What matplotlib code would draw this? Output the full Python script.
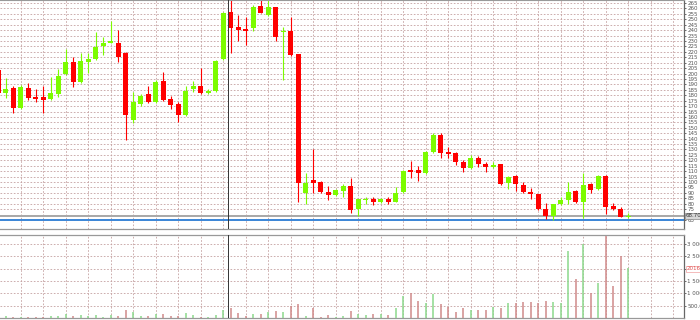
import numpy as np
import matplotlib.pyplot as plt

# candle data, first one is cut by the left edge
opens = [203.3, 181.8, 186.6, 168.2, 186.6, 178.4, 178.4, 176.5, 181.1, 199.6,
         210.6, 192.2, 210.6, 213.4, 225.4, 228.1, 228.1, 218.9, 157.2, 171.9,
         181.1, 173.8, 193.1, 176.5, 171.9, 161.8, 185.7, 188.5, 182.0, 183.9,
         213.4, 256.7, 242.9, 241.0, 242.0, 262.2, 254.0, 261.3, 238.3, 239.2,
         218.0, 89.9, 101.9, 100.0, 90.8, 88.0, 91.7, 96.3, 75.1, 83.4,
         84.3, 81.6, 84.3, 81.6, 90.8, 111.1, 111.1, 108.3, 127.7, 142.9,
         127.7, 126.8, 118.5, 112.9, 122.1, 116.6, 113.8, 116.6, 99.1, 105.5,
         97.3, 90.8, 88.9, 75.1, 68.7, 79.7, 83.4, 91.7, 81.6, 98.2,
         93.6, 105.5, 77.9, 75.1, 67.8]
highs = [205.1, 195.9, 188.5, 189.4, 191.3, 185.7, 188.5, 196.8, 204.2, 222.6,
         215.2, 218.9, 218.9, 238.3, 233.7, 248.4, 240.1, 219.8, 183.0, 181.1,
         188.5, 194.0, 201.4, 179.3, 173.8, 188.5, 193.1, 205.1, 185.7, 212.5,
         256.7, 270.0, 254.0, 252.1, 263.2, 270.0, 270.0, 261.3, 242.9, 252.1,
         218.0, 108.3, 130.4, 101.0, 96.3, 93.6, 98.2, 103.7, 84.3, 86.2,
         86.2, 85.3, 86.2, 95.4, 111.1, 119.4, 114.8, 128.6, 145.2, 145.2,
         132.3, 127.7, 120.3, 124.9, 124.0, 118.5, 118.5, 116.6, 105.5, 106.5,
         100.0, 94.5, 88.9, 80.7, 79.7, 86.2, 100.0, 92.6, 108.3, 99.1,
         106.5, 106.5, 80.7, 77.0, 71.4]
lows = [180.2, 177.4, 163.6, 167.3, 175.6, 173.8, 163.6, 175.6, 178.4, 198.6,
        187.6, 191.3, 200.5, 212.5, 217.1, 228.1, 210.6, 138.7, 154.4, 170.1,
        172.8, 172.8, 174.7, 167.3, 155.3, 160.9, 183.0, 181.1, 181.1, 183.0,
        212.5, 218.9, 230.0, 226.3, 239.2, 255.8, 253.0, 230.0, 194.0, 216.2,
        81.6, 79.7, 89.9, 89.9, 83.4, 87.1, 86.2, 71.4, 68.7, 79.7,
        78.8, 80.7, 79.7, 81.6, 89.9, 103.7, 101.0, 107.4, 126.8, 122.1,
        122.1, 115.7, 109.2, 112.0, 113.8, 109.2, 112.9, 97.3, 93.6, 91.7,
        89.9, 84.3, 74.2, 65.9, 65.0, 78.8, 79.7, 80.7, 66.8, 89.9,
        92.6, 70.5, 74.2, 67.8, 66.8]
closes = [182.0, 185.5, 168.2, 187.6, 177.4, 176.5, 175.6, 182.0, 197.7, 210.6,
          192.2, 211.5, 213.4, 224.5, 228.1, 230.0, 215.2, 161.8, 173.8, 179.3,
          173.8, 192.2, 175.6, 171.0, 161.8, 183.9, 188.5, 182.0, 183.9, 211.5,
          255.8, 242.0, 240.1, 239.2, 261.3, 255.8, 261.3, 233.7, 239.2, 217.1,
          99.1, 99.1, 99.1, 90.8, 88.0, 92.6, 96.3, 74.2, 84.3, 84.3,
          81.6, 84.3, 81.6, 89.9, 110.2, 109.2, 108.3, 127.7, 143.3, 127.2,
          125.8, 118.5, 112.9, 122.1, 116.6, 113.8, 115.7, 98.2, 104.6, 98.2,
          90.8, 88.9, 75.1, 68.7, 79.7, 83.4, 90.8, 81.6, 97.3, 92.6,
          105.5, 77.0, 75.1, 67.8, 68.7]
volumes = [60, 80, 40, 40, 40, 40, 60, 81, 81, 149,
           81, 122, 90, 122, 40, 122, 81, 325, 257, 81,
           100, 149, 163, 81, 100, 217, 122, 60, 40, 122,
           325, 393, 217, 80, 163, 163, 257, 271, 257, 488,
           569, 81, 393, 60, 122, 40, 81, 285, 149, 122,
           163, 149, 122, 393, 908, 1030, 705, 623, 962, 569,
           433, 257, 420, 325, 325, 325, 433, 420, 623, 623,
           664, 664, 623, 705, 664, 623, 2723, 1572, 3000, 1003,
           1410, 3330, 1302, 2492, 2016]

price_ticks = list(range(65, 270, 5))
vol_ticks = [500, 1000, 1500, 2000, 2500, 3000]
vol_labels = ['500.00', '1 000', '1 500', '', '2 500', '3 000']
last_price_text = '68.70'
last_vol_text = '2016'
blue_level = 64.6
separator_pos = 29.67

up_col = '#7cfc00'
dn_col = '#ff0000'
grid_col = '#c4a0a0'

x = np.arange(len(opens)) - 1
o = np.array(opens)
c = np.array(closes)
up = c >= o
cols = np.where(up, up_col, dn_col)

fig = plt.figure(figsize=(7, 3.2), dpi=100)
W, H = 700, 320
ax = fig.add_axes([0, (H - 229) / H, 684 / W, 229 / H])
axv = fig.add_axes([0, (H - 318) / H, 684 / W, 83 / H])

xlim = ((0 - 5.8) / 7.5, (684 - 5.8) / 7.5)

for a in (ax, axv):
    a.set_xlim(*xlim)
    a.set_xticks(np.arange(2, 91, 3))
    a.tick_params(axis='x', length=0, labelbottom=False)
    a.grid(True, color=grid_col, linestyle=(0, (2, 2)), linewidth=0.6)
    a.set_axisbelow(True)
    a.yaxis.tick_right()
    a.tick_params(axis='y', direction='out', length=1.5, width=0.6,
                  labelsize=4.0, pad=0.8, colors='#555555')
    for s in ('left', 'top'):
        a.spines[s].set_visible(False)
    a.spines['right'].set_color('#666666')
    a.spines['right'].set_linewidth(0.9)
    a.spines['bottom'].set_color('#999999')
    a.spines['bottom'].set_linewidth(0.9)
    a.axvline(separator_pos, color='#333333', linewidth=0.7, zorder=4)

# price pane
ax.set_ylim(56.7, 267.8)
ax.set_yticks(price_ticks)
ax.vlines(x, lows, highs, colors=cols, linewidth=0.8, zorder=2)
body = np.where(np.abs(c - o) < 0.9, 0.9, c - o)
ax.bar(x, body, bottom=o, width=0.67, color=cols, linewidth=0, zorder=3)
ax.axhline(closes[-1], color='#a8a8a8', linewidth=1.4, zorder=1)
ax.axhline(blue_level, color='#3a86d8', linewidth=1.4, zorder=1)
ax.text(1.002, closes[-1], last_price_text, transform=ax.get_yaxis_transform(),
        fontsize=4.0, va='center', ha='left', color='#333333',
        bbox=dict(boxstyle='square,pad=0.15', fc='#d8d8d8', ec='#888888', lw=0.5),
        clip_on=False)
ax.spines['top'].set_visible(True)
ax.spines['top'].set_color('#999999')

# volume pane
axv.set_ylim(0, 3360)
axv.set_yticks(vol_ticks)
axv.set_yticklabels(vol_labels)
axv.vlines(x, 0, volumes, colors=np.where(up, '#8cd88c', '#d08a8a'),
           linewidth=1.1, zorder=3)
axv.spines['top'].set_visible(True)
axv.spines['top'].set_color('#999999')
axv.spines['top'].set_linewidth(0.9)
axv.text(1.004, 2000, last_vol_text, transform=axv.get_yaxis_transform(),
         fontsize=4.0, va='center', ha='left', color='#e05050',
         bbox=dict(boxstyle='square,pad=0.1', fc='white', ec='#f0a0a0', lw=0.5),
         clip_on=False)

fig.savefig('out.png', dpi=100)
